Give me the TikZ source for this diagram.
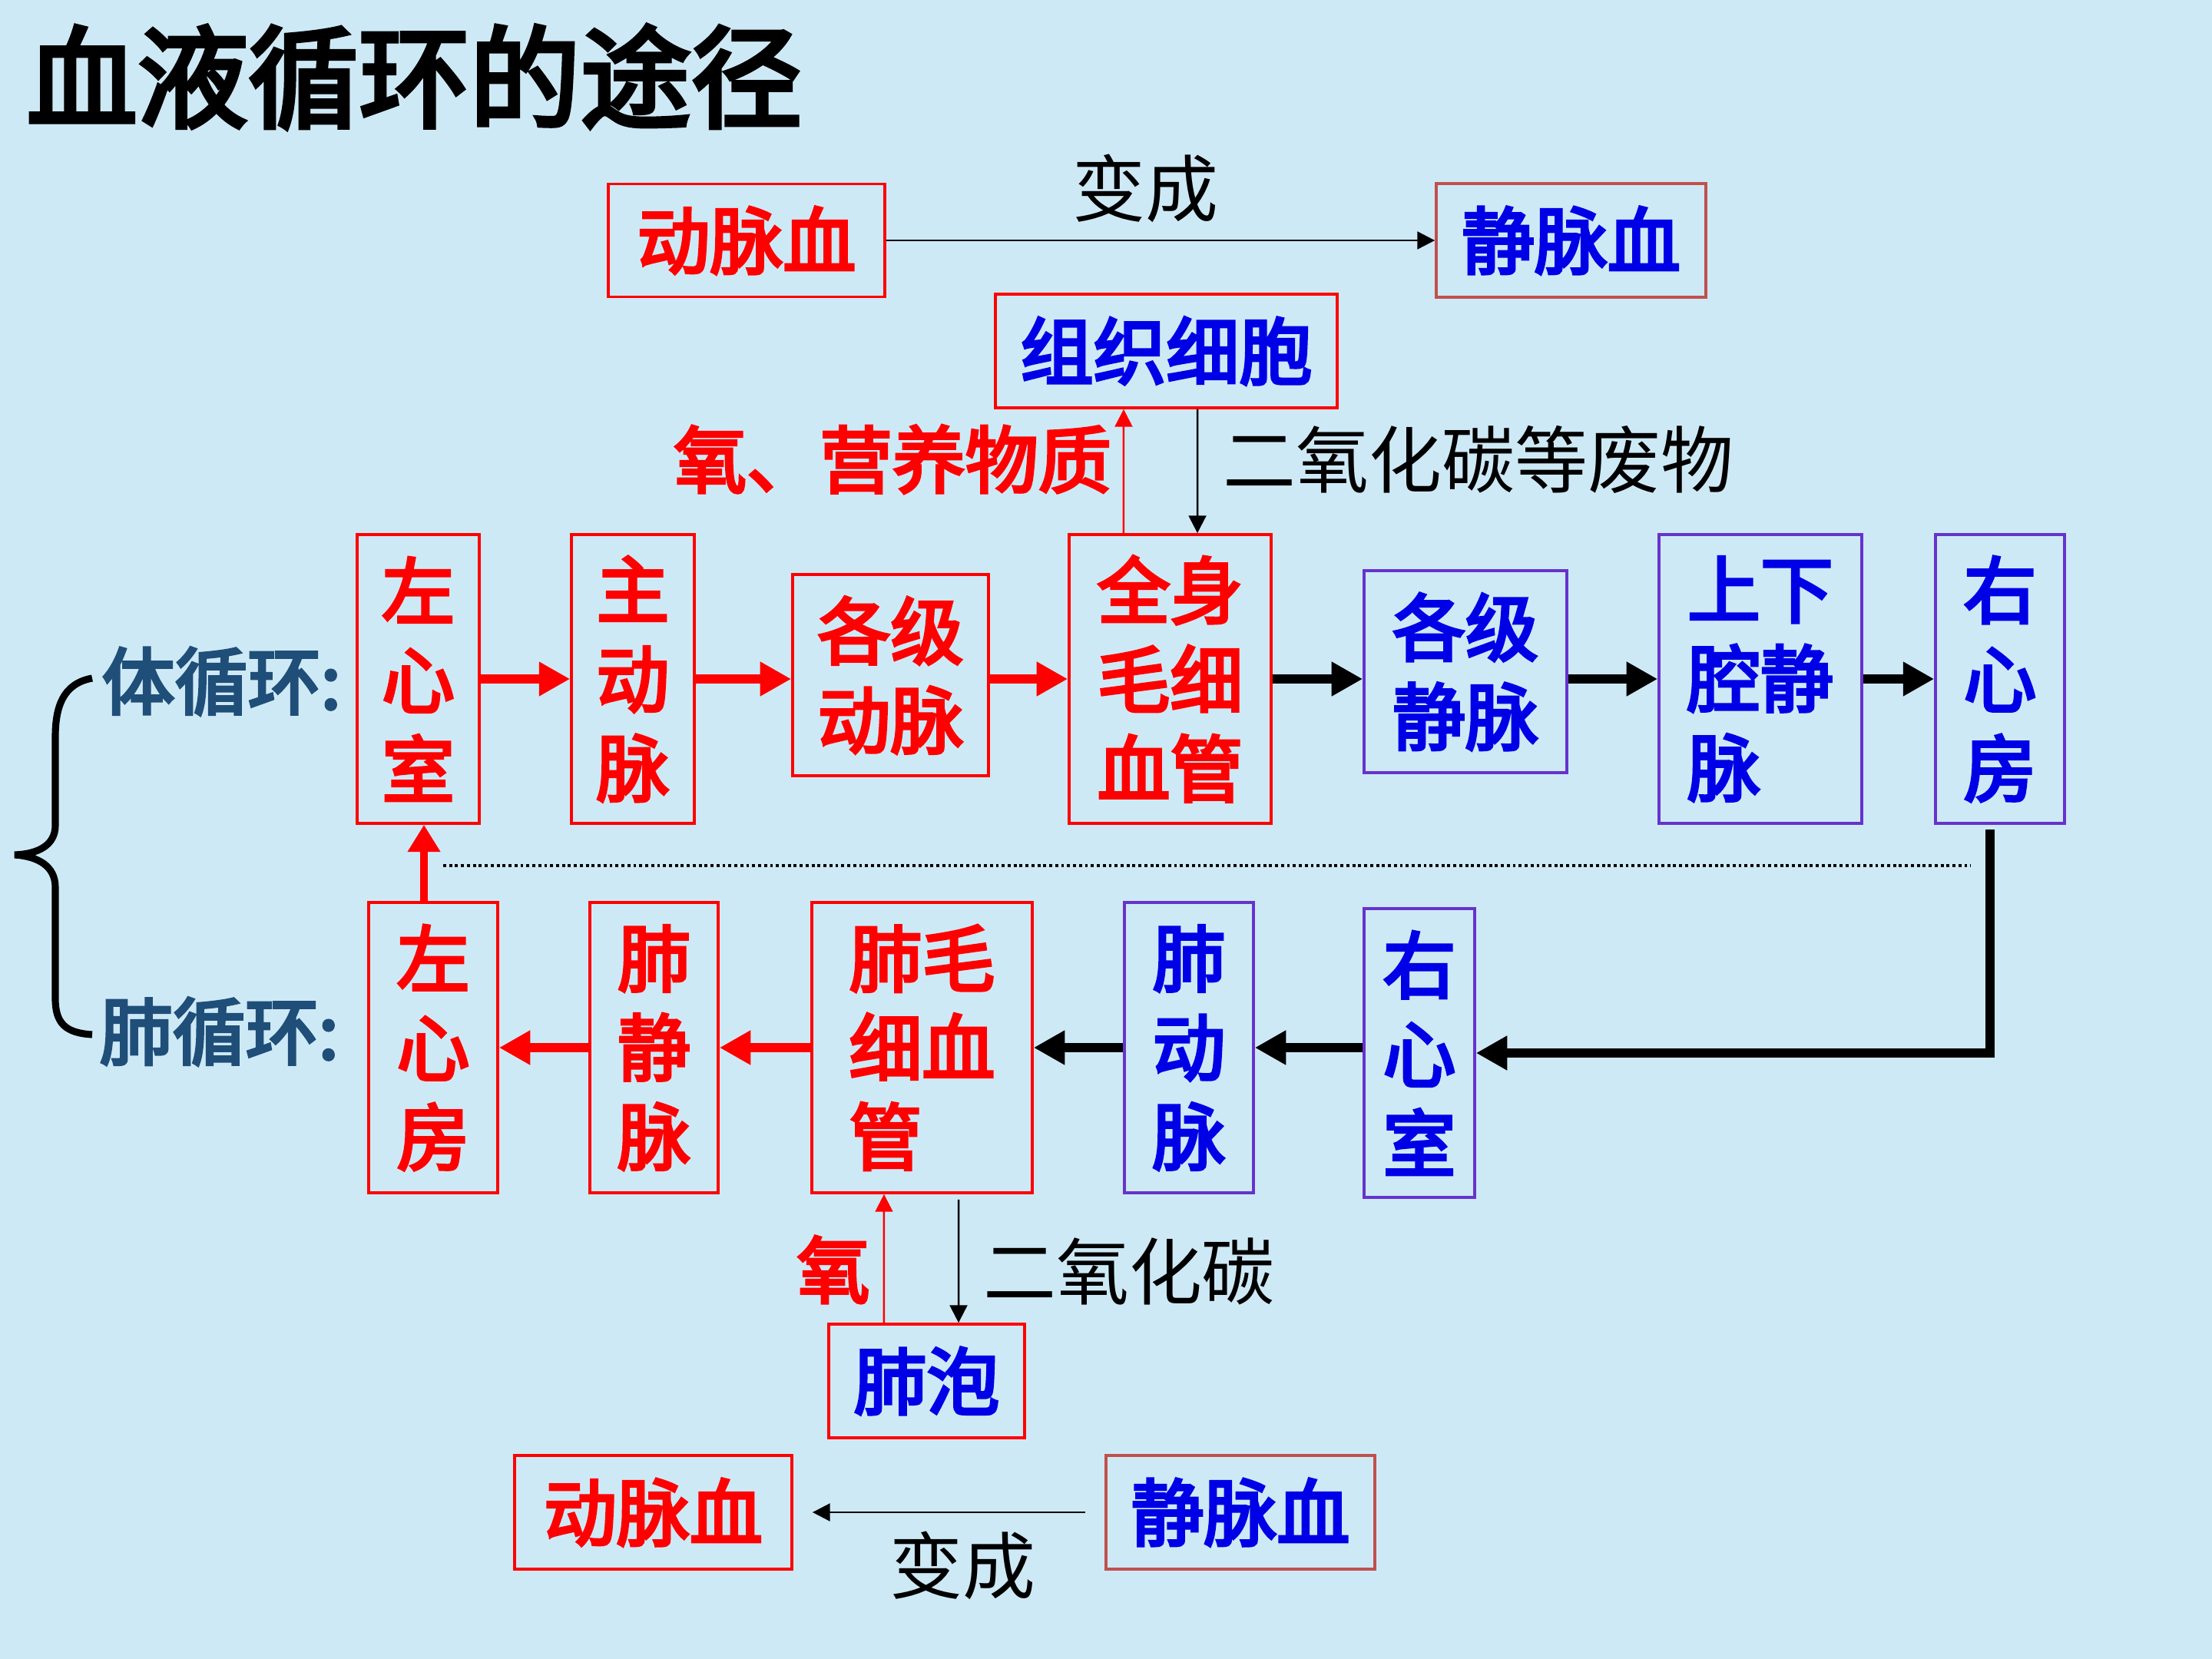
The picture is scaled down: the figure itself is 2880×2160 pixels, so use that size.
\documentclass[tikz,border=0pt]{standalone}
\usepackage{fontspec}
\setmainfont{Noto Sans CJK SC}
\newfontfamily\medcjk{Noto Sans CJK SC}[UprightFeatures={FakeBold=4}]
\newfontfamily\ttlcjk{Noto Sans CJK SC}[UprightFeatures={FakeBold=4}]
\usetikzlibrary{arrows.meta}
\definecolor{bg}{RGB}{206,233,246}
\definecolor{myred}{RGB}{255,0,0}
\definecolor{myblue}{RGB}{0,0,230}
\definecolor{mypurple}{RGB}{102,51,204}
\definecolor{mybrown}{RGB}{192,80,77}
\definecolor{navyc}{RGB}{31,78,121}
\begin{document}
\begin{tikzpicture}[x=0.01cm,y=-0.01cm,
  box/.style={draw=myred, line width=1pt, inner sep=0pt, align=center, font=\fontsize{27}{33}\selectfont\medcjk},
  pbox/.style={box, draw=mypurple},
  bigred/.style={draw=myred, line width=3.4pt, -{Triangle[length=11.5pt,width=12pt]}, color=myred},
  bigblk/.style={draw=black, line width=3.6pt, -{Triangle[length=11.5pt,width=12pt]}},
  redup/.style={draw=myred, line width=2.8pt, -{Triangle[length=10pt,width=11.5pt]}, color=myred},
  thinarr/.style={line width=0.8pt, -{Triangle[length=6.5pt,width=6.5pt]}},
  lbl/.style={inner sep=0pt, font=\fontsize{27}{33}\selectfont},
  blbl/.style={inner sep=0pt, font=\fontsize{27}{33}\selectfont\medcjk}
]
\fill[bg] (0,0) rectangle (2880,2160);
\useasboundingbox (0,0) rectangle (2880,2160);

% title
\node[anchor=west, inner sep=0pt, font=\fontsize{41}{41}\selectfont\ttlcjk] (title) at (34,100) {血液循环的途径};

% top conversion
\node[box, text=myred, minimum width=3.6cm, minimum height=1.47cm] (artT) at (972,313) {动脉血};
\node[box, draw=mybrown, text=myblue, minimum width=3.51cm, minimum height=1.48cm] (venT) at (2045.5,313) {静脉血};
\draw[thinarr] (artT.east) -- (venT.west);
\node[lbl] (bc1) at (1491,245) {变成};

% tissue cells
\node[box, text=myblue, minimum width=4.45cm, minimum height=1.48cm] (tis) at (1518.5,457) {组织细胞};

% systemic circulation row
\node[box, text=myred, minimum width=1.59cm, minimum height=3.76cm] (lv) at (544.5,884) {左\\心\\室};
\node[box, text=myred, minimum width=1.60cm, minimum height=3.76cm] (aorta) at (824,884) {主\\动\\脉};
\node[box, text=myred, minimum width=2.55cm, minimum height=2.62cm] (art) at (1159.5,879) {各级\\动脉};
\node[box, text=myred, minimum width=2.63cm, minimum height=3.76cm] (cap) at (1523.5,884) {全身\\毛细\\血管};
\node[pbox, text=myblue, minimum width=2.64cm, minimum height=2.63cm] (vein) at (1908,874.5) {各级\\静脉};
\node[pbox, text=myblue, align=left, minimum width=2.64cm, minimum height=3.76cm] (vc) at (2292,884) {上下\\腔静\\脉};
\node[pbox, text=myblue, minimum width=1.68cm, minimum height=3.76cm] (ra) at (2604,884) {右\\心\\房};

\draw[bigred] (lv.east) -- (aorta.west);
\draw[bigred] (aorta.east) -- (aorta.east -| art.west);
\draw[bigred] (art.east |- cap.west) -- (cap.west);
\draw[bigblk] (cap.east) -- (cap.east -| vein.west);
\draw[bigblk] (vc.west -| vein.east) -- (vc.west);
\draw[bigblk] (vc.east) -- (ra.west);

% exchange with tissue
\draw[thinarr, draw=myred, color=myred, line width=0.7pt] ([xshift=-0.605cm]cap.north) -- ([xshift=-0.555cm]tis.south);
\draw[thinarr, line width=0.7pt] ([xshift=0.405cm]tis.south) -- ([xshift=0.355cm]cap.north);
\node[blbl, text=myred] (o2a) at (1162,598) {氧、营养物质};
\node[lbl] (co2a) at (1925,598) {二氧化碳等废物};

% labels and brace
\node[blbl, anchor=west, text=navyc] (sys) at (132,887) {体循环:};
\node[blbl, anchor=west, text=navyc] (pul) at (129,1343) {肺循环:};
\draw[line width=2.6pt] (120,883) .. controls (82,890) and (72,920) .. (72,960) -- (72,1075)
  .. controls (72,1100) and (50,1112) .. (19,1113)
  .. controls (50,1115) and (72,1128) .. (72,1155) -- (72,1300)
  .. controls (72,1332) and (85,1345) .. (120,1347);

% dotted separator
\coordinate (dl) at (577,1127);
\coordinate (dr) at (2566,1127);
\draw[line width=1pt, dash pattern=on 1.1pt off 1.1pt] (dl) -- (dr);

% pulmonary circulation row
\node[box, text=myred, minimum width=1.68cm, minimum height=3.78cm] (la) at (564,1364) {左\\心\\房};
\node[box, text=myred, minimum width=1.67cm, minimum height=3.78cm] (pv) at (851.5,1364) {肺\\静\\脉};
\node[box, text=myred, align=left, minimum width=2.87cm, minimum height=3.78cm] (pcap) at (1200.5,1364) {肺毛\\细血\\管};
\node[pbox, text=myblue, minimum width=1.68cm, minimum height=3.78cm] (pa) at (1548,1364) {肺\\动\\脉};
\node[pbox, text=myblue, minimum width=1.44cm, minimum height=3.76cm] (rv) at (1848,1371) {右\\心\\室};

\coordinate (raout) at (2591,1080);
\draw[line width=3.2pt, -{Triangle[length=11.5pt,width=12pt]}] (raout) |- (rv.east);
\draw[bigblk] (rv.west |- pa.west) -- (pa.east);
\draw[bigblk] (pa.west) -- (pcap.east);
\draw[bigred] (pcap.west) -- (pv.east);
\draw[bigred] (pv.west) -- (la.east);
\draw[redup] ([xshift=-0.12cm]la.north) -- ([xshift=0.075cm]lv.south);

% alveoli exchange
\node[box, text=myblue, minimum width=2.55cm, minimum height=1.48cm] (alv) at (1206.5,1798) {肺泡};
\draw[thinarr, draw=myred, color=myred, line width=0.7pt] ([xshift=-0.555cm]alv.north) -- ([xshift=-0.495cm]pcap.south);
\draw[thinarr, line width=0.7pt] ([xshift=0.475cm,yshift=-0.07cm]pcap.south) -- ([xshift=0.415cm]alv.north);
\node[blbl, text=myred] (o2b) at (1085,1653) {氧};
\node[lbl] (co2b) at (1470,1655) {二氧化碳};

% bottom conversion
\node[box, text=myred, minimum width=3.61cm, minimum height=1.48cm] (artB) at (850.5,1969) {动脉血};
\node[box, draw=mybrown, text=myblue, minimum width=3.5cm, minimum height=1.48cm] (venB) at (1615,1969) {静脉血};
\draw[thinarr] ([xshift=-0.25cm]venB.west) -- ([xshift=0.25cm]artB.east);
\node[lbl] (bc2) at (1253,2038) {变成};
\end{tikzpicture}
\end{document}
